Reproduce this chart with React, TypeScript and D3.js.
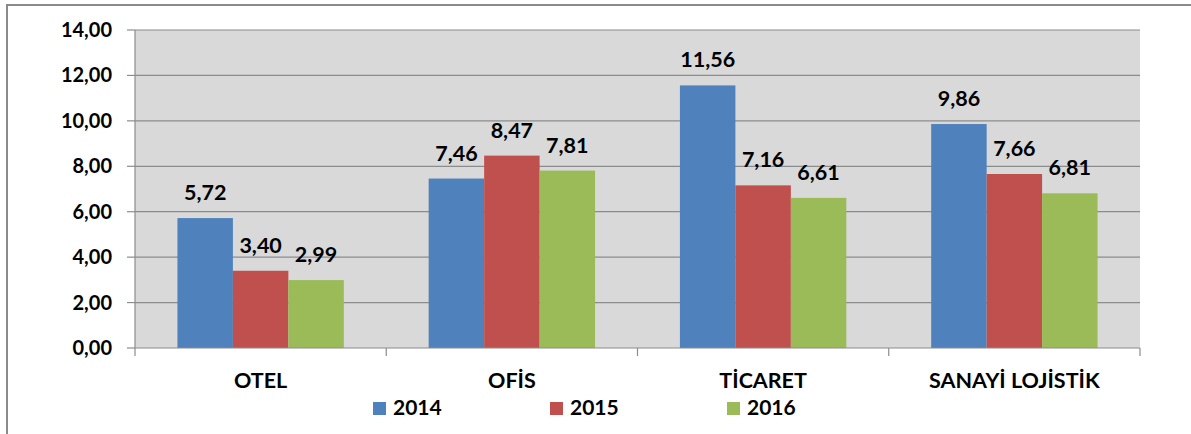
import React, { useEffect, useRef } from "react";
import * as d3 from "d3";

const categories = ["OTEL", "OFİS", "TİCARET", "SANAYİ LOJİSTİK"];
const seriesNames = ["2014", "2015", "2016"];
const values2014 = [5.72, 7.46, 11.56, 9.86];
const values2015 = [3.4, 8.47, 7.16, 7.66];
const values2016 = [2.99, 7.81, 6.61, 6.81];
const yTicks = [0, 2, 4, 6, 8, 10, 12, 14];
const colors = ["#4F81BD", "#C0504D", "#9BBB59"];

const W = 1191;
const H = 434;
const FONT = "Lato, 'Open Sans', sans-serif";

export default function App() {
  const ref = useRef<SVGSVGElement>(null);

  useEffect(() => {
    const svg = d3.select(ref.current);
    svg.selectAll("*").remove();
    const series = [values2014, values2015, values2016];
    const fmt = (v: number) => v.toFixed(2).replace(".", ",");

    const left = 135, right = 1140, top = 30, bottom = 348;

    // outer frame
    svg.append("rect")
      .attr("x", 7).attr("y", 5).attr("width", W + 20).attr("height", H + 20)
      .attr("fill", "#fff").attr("stroke", "#8a8a8a").attr("stroke-width", 2);

    const x0 = d3.scaleBand<string>().domain(categories).range([left, right]).paddingInner(0).paddingOuter(0);
    const x1 = d3.scaleBand<string>().domain(seriesNames).range([0, x0.bandwidth()]).paddingInner(0).paddingOuter(0.765);
    const y = d3.scaleLinear().domain([0, 14]).range([bottom, top]);

    // plot background
    svg.append("rect").attr("x", left).attr("y", top).attr("width", right - left).attr("height", bottom - top).attr("fill", "#D9D9D9");

    // gridlines
    svg.append("g").selectAll("line").data(yTicks.filter(t => t > 0)).join("line")
      .attr("x1", left).attr("x2", right)
      .attr("y1", d => y(d)).attr("y2", d => y(d))
      .attr("stroke", "#8c8c8c").attr("stroke-width", 1.2);

    // y axis
    const yAxis = svg.append("g");
    yAxis.append("line").attr("x1", left).attr("x2", left).attr("y1", top).attr("y2", bottom).attr("stroke", "#8c8c8c").attr("stroke-width", 1.2);
    yAxis.selectAll("line.t").data(yTicks).join("line").attr("class", "t")
      .attr("x1", left - 8).attr("x2", left).attr("y1", d => y(d)).attr("y2", d => y(d))
      .attr("stroke", "#8c8c8c").attr("stroke-width", 1.2);
    yAxis.selectAll("text").data(yTicks).join("text")
      .attr("x", 112).attr("y", d => y(d)).attr("dy", "0.35em")
      .attr("text-anchor", "end").attr("font-family", FONT).attr("font-weight", 700).attr("font-size", 20)
      .attr("fill", "#000").text(d => fmt(d));

    // bars
    const gBars = svg.append("g");
    categories.forEach((c, ci) => {
      seriesNames.forEach((s, si) => {
        const v = series[si][ci];
        gBars.append("rect")
          .attr("x", (x0(c) as number) + (x1(s) as number))
          .attr("y", y(v)).attr("width", x1.bandwidth()).attr("height", y(0) - y(v))
          .attr("fill", colors[si]);
        gBars.append("text")
          .attr("x", (x0(c) as number) + (x1(s) as number) + x1.bandwidth() / 2)
          .attr("y", y(v) - 18).attr("text-anchor", "middle")
          .attr("font-family", FONT).attr("font-weight", 700).attr("font-size", 21.5)
          .attr("fill", "#000").text(fmt(v));
      });
    });

    // x axis
    const xAxis = svg.append("g");
    xAxis.append("line").attr("x1", left).attr("x2", right).attr("y1", bottom).attr("y2", bottom).attr("stroke", "#8c8c8c").attr("stroke-width", 1.2);
    const bounds = [...categories.map(c => x0(c) as number), right];
    xAxis.selectAll("line.t").data(bounds).join("line").attr("class", "t")
      .attr("x1", d => d).attr("x2", d => d).attr("y1", bottom).attr("y2", bottom + 8)
      .attr("stroke", "#8c8c8c").attr("stroke-width", 1.2);
    xAxis.selectAll("text").data(categories).join("text")
      .attr("x", d => (x0(d) as number) + x0.bandwidth() / 2).attr("y", 388)
      .attr("text-anchor", "middle").attr("font-family", FONT).attr("font-weight", 700).attr("font-size", 21.5)
      .attr("fill", "#000").text(d => d);

    // legend
    const legX = [373, 550, 727];
    const leg = svg.append("g");
    seriesNames.forEach((s, i) => {
      leg.append("rect").attr("x", legX[i]).attr("y", 402).attr("width", 13).attr("height", 13).attr("fill", colors[i]);
      leg.append("text").attr("x", legX[i] + 20).attr("y", 415)
        .attr("font-family", FONT).attr("font-weight", 700).attr("font-size", 21).attr("fill", "#000").text(s);
    });
  }, []);

  return (
    <svg ref={ref} width={W} height={H} style={{ position: "absolute", left: 0, top: 0, background: "#fff" }} />
  );
}
